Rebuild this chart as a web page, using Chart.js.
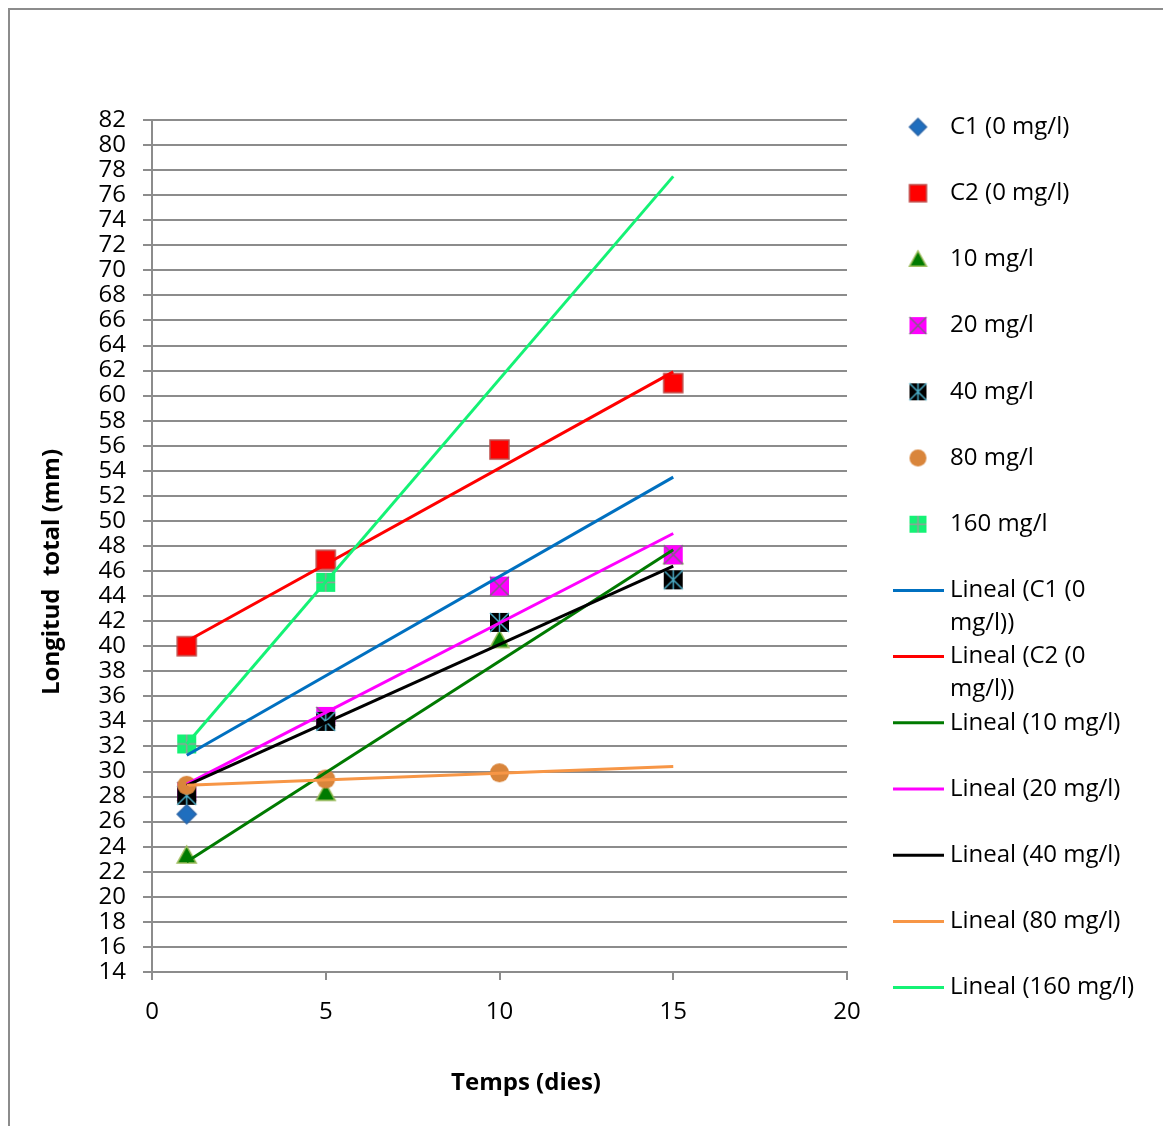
<!DOCTYPE html>
<html>
<head>
<meta charset="utf-8">
<script src="https://cdn.jsdelivr.net/npm/chart.js@4"></script>
<style>
  body { margin: 0; background: #fff; }
  canvas { display: block; }
</style>
</head>
<body>
<canvas id="chartLongitud" width="1163" height="1126"></canvas>
<script>
// dies de mesura
const dies = [1, 5, 10, 15]

// longitud total (mm) per tractament, null = punt no visible
const c1 = [26.6, null, null, null]
const c2 = [40.0, 46.9, 55.7, 61.0]
const mg10 = [23.3, 28.3, 40.5, 47.2]
const mg20 = [28.4, 34.4, 44.8, 47.3]
const mg40 = [28.1, 34.0, 41.9, 45.3]
const mg80 = [28.9, 29.4, 29.9, null]
const mg160 = [32.2, 45.1, null, null]

// línies de tendència (extrems a x = 1 i x = 15)
const diesTend = [1, 15]
const tendC1 = [31.3, 53.5]
const tendC2 = [40.4, 61.9]
const tend10 = [22.8, 47.7]
const tend20 = [29.0, 49.0]
const tend40 = [28.9, 46.4]
const tend80 = [28.9, 30.4]
const tend160 = [32.2, 77.5]

const noms = ['C1 (0 mg/l)', 'C2 (0 mg/l)', '10 mg/l', '20 mg/l', '40 mg/l', '80 mg/l', '160 mg/l']
const series = [c1, c2, mg10, mg20, mg40, mg80, mg160]
const tendencies = [tendC1, tendC2, tend10, tend20, tend40, tend80, tend160]
const colorsTend = ['#0070C0', '#FF0000', '#007A00', '#FF00FF', '#000000', '#F79646', '#14F275']
const formes = ['diamond', 'square', 'triangle', 'xsquare', 'starsquare', 'circle', 'plussquare']

const titolX = 'Temps (dies)'
const titolY = 'Longitud  total (mm)'

const FONT = '"Open Sans", "Liberation Sans", sans-serif'

// marcadors estil Excel dibuixats en un canvas petit
function fesMarcador(forma, mida) {
  const c = document.createElement('canvas')
  c.width = mida + 4
  c.height = mida + 4
  const g = c.getContext('2d')
  const m = (mida + 4) / 2
  const r = mida / 2
  g.lineWidth = 1.5
  if (forma === 'diamond') {
    g.fillStyle = '#1F6EBE'
    g.strokeStyle = '#2A65A8'
    g.beginPath()
    g.moveTo(m, m - r); g.lineTo(m + r, m); g.lineTo(m, m + r); g.lineTo(m - r, m)
    g.closePath(); g.fill(); g.stroke()
  } else if (forma === 'square') {
    g.fillStyle = '#FF0000'
    g.strokeStyle = '#BE4B48'
    g.fillRect(m - r, m - r, mida, mida)
    g.strokeRect(m - r, m - r, mida, mida)
  } else if (forma === 'triangle') {
    g.fillStyle = '#007A00'
    g.strokeStyle = '#9BBB59'
    g.beginPath()
    g.moveTo(m, m - r); g.lineTo(m + r, m + r * 0.8); g.lineTo(m - r, m + r * 0.8)
    g.closePath(); g.fill(); g.stroke()
  } else if (forma === 'xsquare') {
    g.fillStyle = '#FF00FF'
    g.fillRect(m - r, m - r, mida, mida)
    g.strokeStyle = '#7F6084'
    g.beginPath()
    g.moveTo(m - r, m - r); g.lineTo(m + r, m + r)
    g.moveTo(m + r, m - r); g.lineTo(m - r, m + r)
    g.stroke()
  } else if (forma === 'starsquare') {
    g.fillStyle = '#000000'
    g.fillRect(m - r, m - r, mida, mida)
    g.strokeStyle = '#4BACC6'
    g.beginPath()
    g.moveTo(m - r, m - r); g.lineTo(m + r, m + r)
    g.moveTo(m + r, m - r); g.lineTo(m - r, m + r)
    g.moveTo(m, m - r); g.lineTo(m, m + r)
    g.stroke()
  } else if (forma === 'circle') {
    g.fillStyle = '#D9853B'
    g.beginPath()
    g.arc(m, m, r, 0, Math.PI * 2)
    g.fill()
  } else if (forma === 'plussquare') {
    g.fillStyle = '#14F275'
    g.fillRect(m - r, m - r, mida, mida)
    g.strokeStyle = '#9A9A9A'
    g.beginPath()
    g.moveTo(m, m - r); g.lineTo(m, m + r)
    g.moveTo(m - r, m); g.lineTo(m + r, m)
    g.stroke()
  }
  return c
}

const marcadorsPlot = formes.map(f => fesMarcador(f, 19))
const marcadorsLlegenda = formes.map(f => fesMarcador(f, 17))

const datasets = []
tendencies.forEach((t, i) => {
  datasets.push({
    label: 'Lineal (' + noms[i] + ')',
    data: diesTend.map((x, k) => ({ x: x, y: t[k] })),
    showLine: true,
    borderColor: colorsTend[i],
    borderWidth: 3,
    pointRadius: 0,
    order: 10 - i
  })
})
series.forEach((s, i) => {
  datasets.push({
    label: noms[i],
    data: dies.map((x, k) => ({ x: x, y: s[k] })).filter(p => p.y !== null),
    pointStyle: marcadorsPlot[i],
    pointRadius: 10,
    showLine: false,
    order: 30 - i
  })
})

// marc exterior del gràfic
const marcPlugin = {
  id: 'marc',
  beforeDraw(chart) {
    const ctx = chart.ctx
    ctx.save()
    ctx.fillStyle = '#fff'
    ctx.fillRect(0, 0, chart.width, chart.height)
    ctx.strokeStyle = '#8C8C8C'
    ctx.lineWidth = 2
    ctx.beginPath()
    ctx.moveTo(9, chart.height)
    ctx.lineTo(9, 9)
    ctx.lineTo(chart.width, 9)
    ctx.stroke()
    ctx.restore()
  }
}

// títols dels eixos, on els posa Excel
const titolsPlugin = {
  id: 'titols',
  afterDraw(chart) {
    const ctx = chart.ctx
    ctx.save()
    ctx.font = 'bold 24px ' + FONT
    ctx.fillStyle = '#000'
    ctx.textAlign = 'center'
    ctx.textBaseline = 'middle'
    ctx.fillText(titolX, 526, 1083)
    ctx.translate(52, 572)
    ctx.rotate(-Math.PI / 2)
    ctx.fillText(titolY, 0, 0)
    ctx.restore()
  }
}

// llegenda a la dreta, com a Excel
const llegendaPlugin = {
  id: 'llegenda',
  afterDraw(chart) {
    const ctx = chart.ctx
    ctx.save()
    ctx.font = '24px ' + FONT
    ctx.fillStyle = '#000'
    ctx.textBaseline = 'middle'
    let y = 127
    const pas = 66.2
    noms.forEach((nom, i) => {
      const mk = marcadorsLlegenda[i]
      ctx.drawImage(mk, 918 - mk.width / 2, y - mk.height / 2)
      ctx.fillText(nom, 950, y)
      y += pas
    })
    noms.forEach((nom, i) => {
      ctx.strokeStyle = colorsTend[i]
      ctx.lineWidth = 3
      ctx.beginPath()
      ctx.moveTo(893, y)
      ctx.lineTo(944, y)
      ctx.stroke()
      if (nom.startsWith('C')) {
        ctx.fillText('Lineal (' + nom.replace(' mg/l)', ''), 950, y)
        ctx.fillText('mg/l))', 950, y + 33)
      } else {
        ctx.fillText('Lineal (' + nom + ')', 950, y)
      }
      y += pas
    })
    ctx.restore()
  }
}

const ctx = document.getElementById('chartLongitud').getContext('2d')
new Chart(ctx, {
  type: 'scatter',
  data: { datasets: datasets },
  options: {
    responsive: false,
    animation: false,
    layout: { padding: { left: 0, top: 120, right: 316, bottom: 0 } },
    plugins: {
      legend: { display: false },
      tooltip: { enabled: false }
    },
    scales: {
      x: {
        type: 'linear',
        min: 0,
        max: 20,
        afterFit: (scale) => { scale.height = 154 },
        ticks: {
          stepSize: 5,
          color: '#000',
          padding: 18,
          font: { family: FONT, size: 24 }
        },
        grid: {
          drawOnChartArea: false,
          drawTicks: true,
          tickLength: 8,
          tickColor: '#8C8C8C',
          lineWidth: 2
        },
        border: { display: true, color: '#8C8C8C', width: 2 },
        title: { display: false }
      },
      y: {
        type: 'linear',
        min: 14,
        max: 82,
        afterFit: (scale) => { scale.width = 152 },
        ticks: {
          stepSize: 2,
          autoSkip: false,
          color: '#000',
          padding: 17,
          font: { family: FONT, size: 24 }
        },
        grid: {
          color: '#8C8C8C',
          lineWidth: 2,
          drawTicks: true,
          tickLength: 9,
          tickColor: '#8C8C8C'
        },
        border: { display: true, color: '#8C8C8C', width: 2 },
        title: { display: false }
      }
    }
  },
  plugins: [marcPlugin, titolsPlugin, llegendaPlugin]
})
</script>
</body>
</html>
